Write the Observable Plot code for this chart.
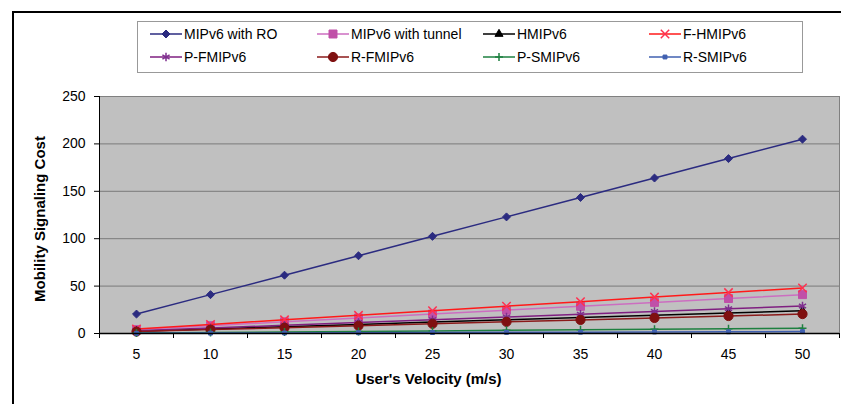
<!DOCTYPE html>
<html><head><meta charset="utf-8">
<script src="https://cdn.jsdelivr.net/npm/d3@7"></script>
<script src="https://cdn.jsdelivr.net/npm/@observablehq/plot@0.6"></script>
<style>
body{margin:0;background:#fff;}
#wrap{position:relative;width:841px;height:404px;overflow:hidden;font-family:"Liberation Sans",Arial,sans-serif;}
#chart{position:absolute;left:0;top:0;}
#outer{position:absolute;left:12px;top:11px;width:840px;height:400px;border-top:2px solid #000;border-left:2px solid #000;}
#legend{position:absolute;left:137px;top:21px;}
</style></head><body>
<div id="wrap"><div id="chart"></div><div id="outer"></div><svg id="legend" width="666" height="52"></svg></div>
<script>
const velocities = [5, 10, 15, 20, 25, 30, 35, 40, 45, 50];
const xBoundaries = [2.5, 7.5, 12.5, 17.5, 22.5, 27.5, 32.5, 37.5, 42.5, 47.5, 52.5];
const yTicks = [0, 50, 100, 150, 200, 250];
const seriesNames = ["MIPv6 with RO", "MIPv6 with tunnel", "HMIPv6", "F-HMIPv6", "P-FMIPv6", "R-FMIPv6", "P-SMIPv6", "R-SMIPv6"];
const mipv6RO     = [20.5, 41, 61.5, 82, 102.5, 123, 143.5, 164, 184.5, 205];
const mipv6Tunnel = [4.1, 8.2, 12.3, 16.4, 20.5, 24.6, 28.7, 32.8, 36.9, 41];
const hmipv6      = [2.4, 4.8, 7.2, 9.6, 12, 14.4, 16.8, 19.2, 21.6, 24];
const fhmipv6     = [4.8, 9.6, 14.4, 19.2, 24, 28.8, 33.6, 38.4, 43.2, 48];
const pfmipv6     = [2.9, 5.8, 8.7, 11.6, 14.5, 17.4, 20.3, 23.2, 26.1, 29];
const rfmipv6     = [2.05, 4.1, 6.15, 8.2, 10.25, 12.3, 14.35, 16.4, 18.45, 20.5];
const psmipv6     = [0.55, 1.1, 1.65, 2.2, 2.75, 3.3, 3.85, 4.4, 4.95, 5.5];
const rsmipv6     = [0.2, 0.4, 0.6, 0.8, 1.0, 1.2, 1.4, 1.6, 1.8, 2.0];
const seriesValues = [mipv6RO, mipv6Tunnel, hmipv6, fhmipv6, pfmipv6, rfmipv6, psmipv6, rsmipv6];

// styles
const lineColors   = ["#2b2b80", "#cc6ec0", "#000000", "#ff1a1a", "#7f1f80", "#8b1a1a", "#1e8040", "#4060b0"];
const markerFill   = ["#2b2b80", "#c050a8", "#000000", "none", "none", "#7f1010", "none", "#4060b0"];
const markerStroke = ["#2b2b80", "#c050a8", "#000000", "#ff3050", "#7f2f8f", "#7f1010", "#1e8040", "#4060b0"];
const symbols      = ["diamond2", "square", "triangle", "times", "asterisk", "circle", "plus", "square"];
const radii        = [3.6, 4.5, 3.0, 3.9, 3.9, 4.6, 2.7, 2.2];

const table = [];
seriesNames.forEach((s, i) => velocities.forEach((v, j) => table.push({series: s, v, cost: seriesValues[i][j]})));

const marks = [
  Plot.frame({fill: "#c0c0c0", stroke: "#808080"}),
  Plot.gridY(yTicks.filter(d => d > 0 && d < 250), {stroke: "#7a7a7a", strokeOpacity: 1}),
  Plot.axisY(yTicks, {tickSize: 5, tickPadding: 9, label: null, stroke: "#000", fill: "#000", fontSize: 14}),
  Plot.axisX(xBoundaries, {tickSize: 5, tickFormat: () => "", label: null, stroke: "#000"}),
  Plot.axisX(velocities, {tickSize: 0, tickPadding: 16, label: null, fill: "#000", fontSize: 14}),
  Plot.ruleX([2.5], {stroke: "#000", strokeWidth: 1}),
];
seriesNames.forEach((s, i) => {
  const d = table.filter(r => r.series === s);
  marks.push(Plot.line(d, {x: "v", y: "cost", stroke: lineColors[i], strokeWidth: 1.5}));
  marks.push(Plot.dot(d, {x: "v", y: "cost", symbol: () => symbols[i], r: radii[i], fill: markerFill[i], stroke: markerStroke[i], strokeWidth: (markerFill[i] === "none" ? 1.5 : 1)}));
});
marks.push(Plot.ruleY([0], {stroke: "#000", strokeWidth: 1.5}));
marks.push(Plot.text(["User's Velocity (m/s)"], {frameAnchor: "bottom", textAnchor: "middle", dx: -41, dy: 50, fontWeight: "bold", fontSize: 15, fill: "#000"}));
marks.push(Plot.text(["Mobility Signaling Cost"], {frameAnchor: "left", textAnchor: "middle", dx: -59, dy: 4, rotate: -90, fontWeight: "bold", fontSize: 15, fill: "#000"}));

const plot = Plot.plot({
  width: 841, height: 404,
  marginLeft: 99, marginRight: 2, marginTop: 96, marginBottom: 71,
  style: {fontFamily: "Liberation Sans, Arial, sans-serif", fontSize: "13px", color: "#000", background: "transparent"},
  x: {type: "linear", domain: [2.5, 52.5], axis: null},
  y: {domain: [0, 250], axis: null},
  marks
});
document.getElementById("chart").appendChild(plot);

// legend
const symMap = {diamond2: d3.symbolDiamond2, square: d3.symbolSquare, triangle: d3.symbolTriangle, times: d3.symbolTimes, asterisk: d3.symbolAsterisk, circle: d3.symbolCircle, plus: d3.symbolPlus};
const lg = d3.select("#legend");
lg.append("rect").attr("x", 0.5).attr("y", 0.5).attr("width", 665).attr("height", 51).attr("fill", "#fff").attr("stroke", "#999");
const colX = [13, 180, 346, 512];
const rowY = [13, 36];
seriesNames.forEach((s, i) => {
  const cx = colX[i % 4], cy = rowY[Math.floor(i / 4)];
  const g = lg.append("g").attr("transform", `translate(${cx},${cy})`);
  g.append("line").attr("x1", 0).attr("x2", 32).attr("y1", 0).attr("y2", 0).attr("stroke", lineColors[i]).attr("stroke-width", 1.5);
  g.append("path").attr("transform", "translate(16,0)")
    .attr("d", d3.symbol(symMap[symbols[i]], radii[i] * radii[i] * Math.PI)())
    .attr("fill", markerFill[i]).attr("stroke", markerStroke[i]).attr("stroke-width", markerFill[i] === "none" ? 1.5 : 1);
  g.append("text").attr("x", 34).attr("y", 0).attr("dy", "0.35em").attr("font-size", 14)
    .attr("font-family", "Liberation Sans, Arial, sans-serif").attr("fill", "#000").text(s);
});
</script>
</body></html>
